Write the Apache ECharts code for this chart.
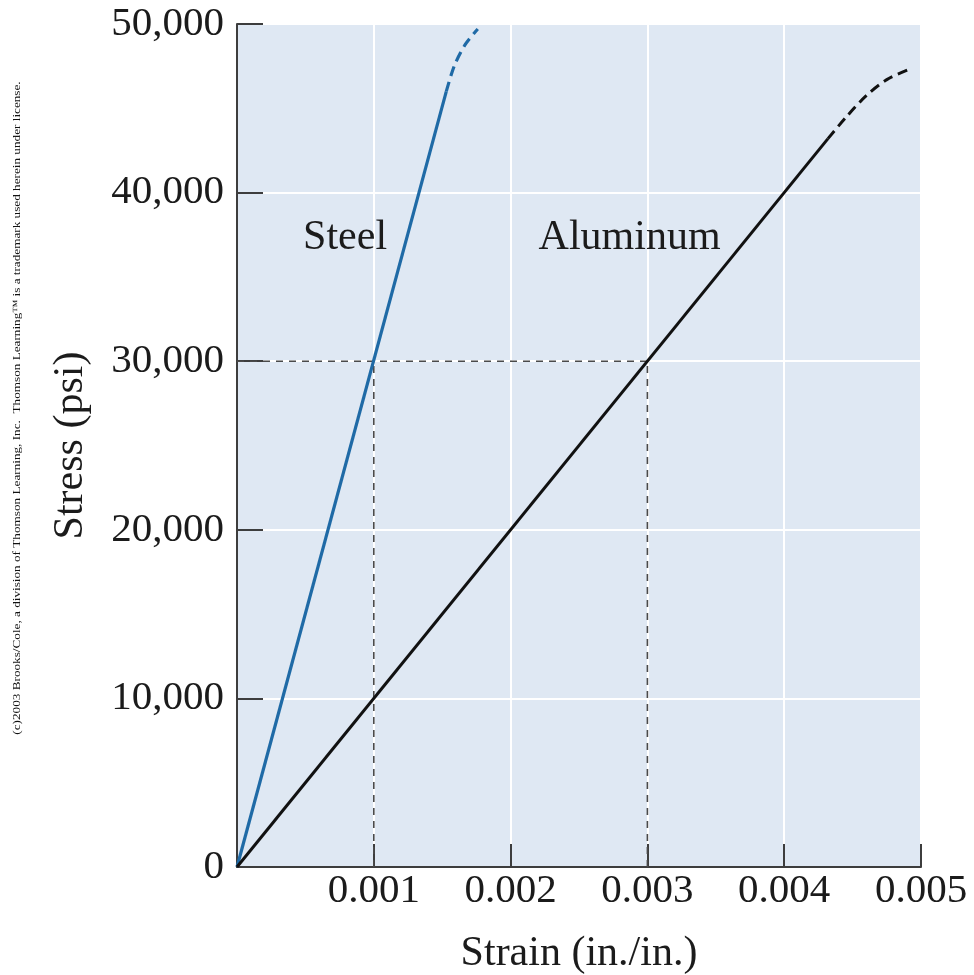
<!DOCTYPE html>
<html>
<head>
<meta charset="utf-8">
<title>Stress–strain: steel and aluminum</title>
<script src="https://cdn.jsdelivr.net/npm/echarts@6/dist/echarts.min.js"></script>
<style>
  html, body { margin: 0; padding: 0; background: #ffffff; }
  #chart { width: 974px; height: 975px; }
</style>
</head>
<body>
<div id="chart"></div>
<script>
// Axis ranges and ticks
const strainTicks = [0, 0.001, 0.002, 0.003, 0.004, 0.005];
const stressTicks = [0, 10000, 20000, 30000, 40000, 50000];

// Steel: elastic (solid) part and the continuation past the proportional limit (dashed)
const steelElastic = [[0, 0], [0.00153, 46000]];
const steelBeyond = [[0.00153, 46000], [0.00159, 47550], [0.00167, 48800], [0.00176, 49700]];

// Aluminum: elastic (solid) part and continuation (dashed)
const aluminumElastic = [[0, 0], [0.00432, 43200]];
const aluminumBeyond = [[0.00432, 43200], [0.00445, 44450], [0.0046, 45750], [0.00475, 46700], [0.00491, 47300]];

// Reading guides at 30,000 psi
const guideStress = 30000;
const guideStrainSteel = 0.001;
const guideStrainAluminum = 0.003;

// Curve name labels (data coordinates)
const curveLabels = [
  { name: 'Steel', value: [0.00079, 37300] },
  { name: 'Aluminum', value: [0.00287, 37300] }
];

const copyright = '(c)2003 Brooks/Cole, a division of Thomson Learning, Inc.  Thomson Learning\u2122 is a trademark used herein under license.';

const FONT = "'Liberation Serif', 'Times New Roman', serif";
const INK = '#1b1b1b';
const AXIS = '#3d3d3d';

const chart = echarts.init(document.getElementById('chart'), null, { renderer: 'canvas' });

const dashedGuide = {
  type: 'line',
  symbol: 'none',
  silent: true,
  z: 2,
  lineStyle: { color: '#4a4a4a', width: 1.6, type: [7, 6] }
};

chart.setOption({
  animation: false,
  backgroundColor: '#ffffff',
  grid: {
    left: 237, right: 53, top: 24, bottom: 108,
    outerBoundsMode: 'none',
    containLabel: false,
    show: true, backgroundColor: '#dfe8f3', borderWidth: 0
  },
  xAxis: {
    type: 'value',
    min: strainTicks[0],
    max: strainTicks[strainTicks.length - 1],
    interval: strainTicks[1] - strainTicks[0],
    name: 'Strain (in./in.)',
    nameLocation: 'middle',
    nameGap: 66,
    nameTextStyle: { fontFamily: FONT, fontSize: 42, color: INK },
    axisLine: { show: true, onZero: false, lineStyle: { color: AXIS, width: 2 } },
    axisTick: { show: true, inside: true, length: 23, lineStyle: { color: AXIS, width: 2 } },
    axisLabel: {
      fontFamily: FONT, fontSize: 41, color: INK, margin: 4,
      formatter: v => (v === 0 ? '' : v.toFixed(3))
    },
    splitLine: { show: true, lineStyle: { color: '#ffffff', width: 2 } }
  },
  yAxis: {
    type: 'value',
    min: stressTicks[0],
    max: stressTicks[stressTicks.length - 1],
    interval: stressTicks[1] - stressTicks[0],
    name: 'Stress (psi)',
    nameLocation: 'middle',
    nameRotate: 90,
    nameGap: 145,
    nameTextStyle: { fontFamily: FONT, fontSize: 42, color: INK },
    axisLine: { show: true, onZero: false, lineStyle: { color: AXIS, width: 2 } },
    axisTick: { show: true, inside: true, length: 26, lineStyle: { color: AXIS, width: 2 } },
    axisLabel: {
      fontFamily: FONT, fontSize: 41, color: INK, margin: 13,
      formatter: v => v.toLocaleString('en-US')
    },
    splitLine: { show: true, lineStyle: { color: '#ffffff', width: 2 } }
  },
  series: [
    Object.assign({}, dashedGuide, { data: [[0, guideStress], [guideStrainAluminum, guideStress]] }),
    Object.assign({}, dashedGuide, { data: [[guideStrainSteel, 0], [guideStrainSteel, guideStress]] }),
    Object.assign({}, dashedGuide, { data: [[guideStrainAluminum, 0], [guideStrainAluminum, guideStress]] }),
    {
      name: 'Steel', type: 'line', symbol: 'none', z: 4,
      data: steelElastic,
      lineStyle: { color: '#1f6aa6', width: 3.2 }
    },
    {
      name: 'Steel beyond', type: 'line', symbol: 'none', smooth: 0.3, z: 4,
      data: steelBeyond,
      lineStyle: { color: '#1f6aa6', width: 3.2, type: [10, 6] }
    },
    {
      name: 'Aluminum', type: 'line', symbol: 'none', z: 4,
      data: aluminumElastic,
      lineStyle: { color: '#111111', width: 3 }
    },
    {
      name: 'Aluminum beyond', type: 'line', symbol: 'none', smooth: 0.3, z: 4,
      data: aluminumBeyond,
      lineStyle: { color: '#111111', width: 3, type: [10, 6] }
    },
    {
      type: 'scatter', symbolSize: 0, silent: true, z: 5,
      itemStyle: { opacity: 1 },
      data: curveLabels,
      label: {
        show: true, position: 'inside', formatter: p => p.name,
        fontFamily: FONT, fontSize: 42, color: INK, opacity: 1
      }
    }
  ],
  graphic: [
    {
      type: 'text',
      x: 17, y: 408,
      rotation: Math.PI / 2,
      scaleX: 1.2,
      style: {
        text: copyright,
        fontFamily: FONT,
        fontSize: 11,
        fill: '#111111',
        align: 'center',
        verticalAlign: 'middle'
      }
    }
  ]
});
</script>
</body>
</html>
